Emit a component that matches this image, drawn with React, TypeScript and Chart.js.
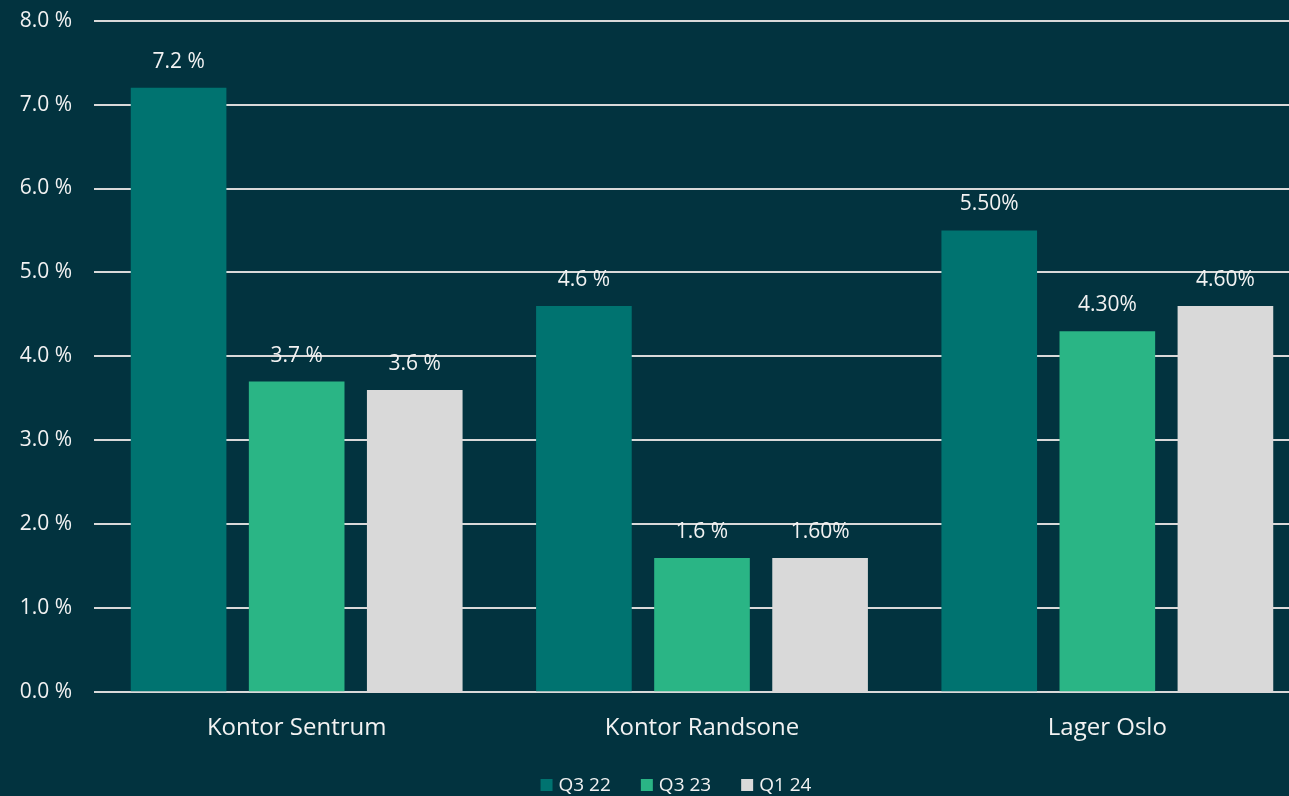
import React, { useEffect, useRef } from "react";
import { Chart, registerables } from "chart.js";

Chart.register(...registerables);

const categories = ["Kontor Sentrum", "Kontor Randsone", "Lager Oslo"];
const seriesNames = ["Q3 22", "Q3 23", "Q1 24"];
const q322 = [7.2, 4.6, 5.5];
const q323 = [3.7, 1.6, 4.3];
const q124 = [3.6, 1.6, 4.6];
const q322Labels = ["7.2 %", "4.6 %", "5.50%"];
const q323Labels = ["3.7 %", "1.6 %", "4.30%"];
const q124Labels = ["3.6 %", "1.60%", "4.60%"];
const colors = ["#007370", "#2AB585", "#D9D9D9"];

const BG = "#02333F";
const TEXT = "#F2F2F2";
const FONT = "'Open Sans', sans-serif";

export default function App() {
  const ref = useRef<HTMLCanvasElement | null>(null);
  useEffect(() => {
    document.body.style.margin = "0";
    document.body.style.background = BG;
    const allLabels = [q322Labels, q323Labels, q124Labels];
    const labelPlugin = {
      id: "valueLabels",
      afterDatasetsDraw(chart: any) {
        const ctx = chart.ctx;
        ctx.save();
        ctx.fillStyle = TEXT;
        ctx.font = `21px ${FONT}`;
        ctx.textAlign = "center";
        ctx.textBaseline = "middle";
        chart.data.datasets.forEach((ds: any, i: number) => {
          const meta = chart.getDatasetMeta(i);
          meta.data.forEach((el: any, j: number) => {
            ctx.fillText(allLabels[i][j], el.x, el.y - 26);
          });
        });
        ctx.restore();
      },
    };
    const legendPlugin = {
      id: "customLegend",
      afterDraw(chart: any) {
        const ctx = chart.ctx;
        ctx.save();
        ctx.font = `19px ${FONT}`;
        ctx.textBaseline = "middle";
        const box = 12;
        const gap = 6;
        const itemGap = 30;
        const widths = seriesNames.map((n) => box + gap + ctx.measureText(n).width);
        const total = widths.reduce((a, b) => a + b, 0) + itemGap * (widths.length - 1);
        let x = 676 - total / 2;
        const y = 799;
        seriesNames.forEach((n, i) => {
          ctx.fillStyle = colors[i];
          ctx.fillRect(x, y - box / 2, box, box);
          ctx.fillStyle = TEXT;
          ctx.textAlign = "left";
          ctx.fillText(n, x + box + gap, y + 1);
          x += widths[i] + itemGap;
        });
        ctx.restore();
      },
    };
    const chart = new Chart(ref.current as HTMLCanvasElement, {
      type: "bar",
      data: {
        labels: categories,
        datasets: [
          { label: seriesNames[0], data: q322, backgroundColor: colors[0] },
          { label: seriesNames[1], data: q323, backgroundColor: colors[1] },
          { label: seriesNames[2], data: q124, backgroundColor: colors[2] },
        ],
      },
      options: {
        animation: false,
        responsive: false,
        maintainAspectRatio: false,
        layout: { padding: { top: 6, bottom: 39, left: 0, right: 0 } },
        datasets: { bar: { categoryPercentage: 0.874, barPercentage: 0.81 } } as any,
        plugins: {
          legend: { display: false },
          tooltip: { enabled: false },
        },
        scales: {
          x: {
            grid: { display: false },
            border: { display: false },
            ticks: { color: TEXT, font: { size: 24, family: FONT }, padding: 14 },
          },
          y: {
            min: 0,
            max: 8,
            afterFit: (s: any) => {
              s.width = 94;
            },
            grid: { color: "#D9D9D9", lineWidth: 2, drawTicks: false },
            border: { display: false },
            ticks: {
              stepSize: 1,
              color: TEXT,
              padding: 22,
              font: { size: 21, family: FONT },
              callback: (v: any) => Number(v).toFixed(1) + " %",
            },
          },
        },
      },
      plugins: [labelPlugin, legendPlugin],
    });
    return () => chart.destroy();
  }, []);
  return (
    <div style={{ width: 1289, height: 796, overflow: "hidden", position: "relative", background: BG }}>
      <canvas ref={ref} width={1310} height={810} style={{ position: "absolute", left: 0, top: -14 }} />
    </div>
  );
}
